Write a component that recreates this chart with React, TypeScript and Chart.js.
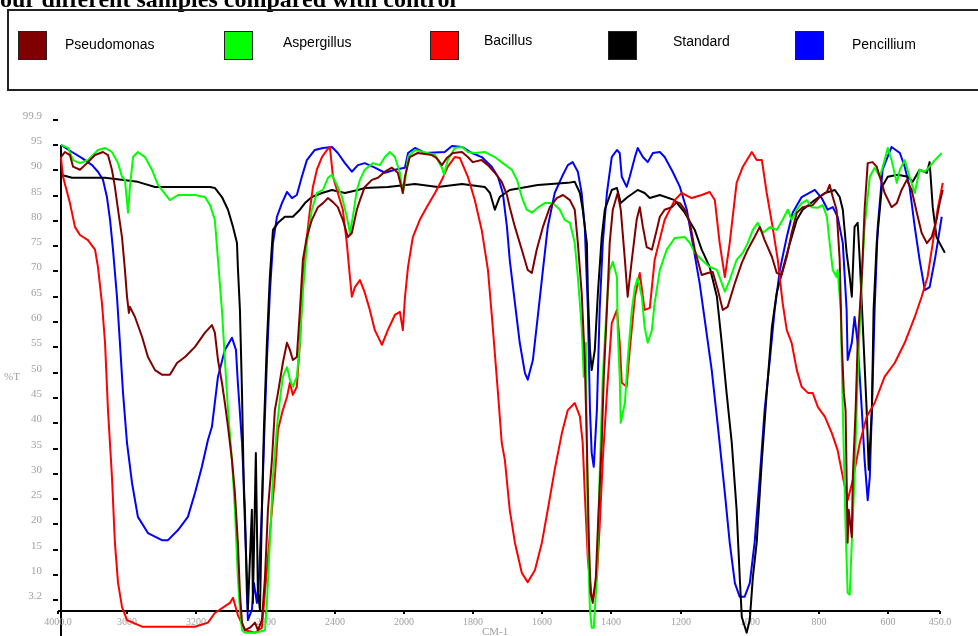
import React, { useEffect, useRef } from "react";
import { Chart, registerables } from "chart.js";

Chart.register(...registerables);

// ---------- data ----------
const titleText = "four different samples compared with control";
const seriesNames = ["Pseudomonas", "Aspergillus", "Bacillus", "Standard", "Pencillium"];

const xTickWn = [4000, 3600, 3200, 2800, 2400, 2000, 1800, 1600, 1400, 1200, 1000, 800, 600, 450];
const xTickLabels = ["4000.0", "3600", "3200", "2800", "2400", "2000", "1800", "1600", "1400", "1200", "1000", "800", "600", "450.0"];
const yTickValues = [99.9, 95, 90, 85, 80, 75, 70, 65, 60, 55, 50, 45, 40, 35, 30, 25, 20, 15, 10, 5];
const yTickLabels = ["99.9", "95", "90", "85", "80", "75", "70", "65", "60", "55", "50", "45", "40", "35", "30", "25", "20", "15", "10", "3.2"];

// [wavenumber cm-1, %T]
const pseudomonas: [number, number][] = [
  [3983,92.6],[3960,93.6],[3931,93.0],[3913,90.7],[3873,90.1],[3832,91.4],[3786,93.0],[3740,93.6],[3711,93.0],[3688,90.1],[3671,86.7],[3653,82.2],[3630,76.8],[3613,70.3],[3601,65.0],[3590,61.8],[3584,63.0],[3555,61.0],[3514,57.1],[3480,53.1],[3439,50.5],[3399,49.6],[3353,49.6],[3312,51.9],[3266,53.1],[3208,55.1],[3150,57.9],[3110,59.4],[3093,57.9],[3075,52.5],[3052,48.0],[3035,44.0],[3017,39.3],[2994,32.7],[2977,26.2],[2960,16.4],[2948,6.5],[2936,0.6],[2919,-0.9],[2890,-0.4],[2861,0.6],[2844,-0.9],[2821,1.1],[2803,9.6],[2786,22.9],[2763,32.7],[2746,42.6],[2728,46.0],[2700,51.9],[2676,55.9],[2659,54.5],[2642,52.5],[2619,53.1],[2601,62.4],[2584,72.3],[2561,76.8],[2532,80.2],[2497,82.7],[2468,83.5],[2439,84.5],[2410,83.7],[2382,82.7],[2353,80.2],[2324,76.8],[2301,77.6],[2272,82.2],[2254,84.1],[2226,86.7],[2185,88.1],[2150,88.5],[2110,89.7],[2069,90.5],[2035,89.5],[2006,85.5],[1997,88.7],[1983,92.6],[1960,93.4],[1919,93.0],[1905,92.4],[1890,91.0],[1876,92.4],[1858,93.4],[1832,93.6],[1815,92.6],[1801,91.6],[1775,92.0],[1757,91.0],[1737,89.5],[1717,87.7],[1702,85.1],[1694,82.7],[1679,78.8],[1659,74.3],[1642,70.3],[1630,69.7],[1616,74.3],[1598,78.8],[1578,82.7],[1558,84.5],[1540,85.1],[1520,84.1],[1506,82.2],[1497,75.6],[1486,65.8],[1477,52.5],[1471,36.1],[1465,16.4],[1460,6.5],[1454,4.5],[1445,9.6],[1439,19.5],[1428,36.1],[1422,49.2],[1413,62.4],[1405,75.6],[1396,82.2],[1382,85.5],[1373,82.2],[1361,72.3],[1353,65.0],[1341,72.3],[1327,80.2],[1318,82.7],[1309,78.8],[1298,74.8],[1283,74.3],[1269,78.2],[1260,80.8],[1246,82.2],[1225,82.7],[1211,83.7],[1202,83.5],[1188,82.2],[1173,79.6],[1159,74.3],[1139,69.3],[1121,69.7],[1107,69.9],[1092,66.3],[1078,62.4],[1064,63.0],[1043,67.7],[1023,71.7],[1006,74.3],[986,76.8],[971,78.8],[957,76.2],[936,72.9],[922,69.7],[908,69.3],[893,72.9],[879,77.6],[864,81.6],[847,82.7],[818,83.1],[798,84.7],[777,85.7],[769,87.1],[760,84.7],[749,82.2],[740,72.3],[734,55.9],[728,46.0],[723,42.6],[720,29.4],[717,16.4],[714,22.9],[705,17.5],[702,29.4],[694,42.6],[688,55.9],[676,68.9],[668,82.2],[659,91.4],[645,91.6],[633,90.7],[624,88.7],[610,85.5],[590,82.7],[575,83.5],[561,86.1],[546,88.1],[532,86.1],[517,81.6],[503,77.6],[488,75.6],[474,76.8],[460,80.2],[451,83.5],[442,86.1]
];

const aspergillus: [number, number][] = [
  [3983,95.0],[3942,94.4],[3913,92.0],[3873,91.4],[3827,92.0],[3769,94.0],[3728,94.4],[3688,93.6],[3653,91.4],[3630,88.7],[3613,88.1],[3595,81.6],[3584,86.7],[3566,92.6],[3538,93.6],[3497,92.6],[3457,90.1],[3422,87.1],[3353,84.1],[3306,85.1],[3208,85.1],[3150,84.7],[3121,83.1],[3093,80.2],[3075,72.3],[3052,62.4],[3035,52.5],[3017,42.6],[2994,32.7],[2977,22.9],[2960,9.6],[2948,3.1],[2936,-0.9],[2919,-1.4],[2861,-1.4],[2803,-0.9],[2792,4.5],[2775,16.4],[2757,29.4],[2734,39.3],[2717,44.6],[2700,49.2],[2676,51.1],[2659,48.6],[2642,47.2],[2619,49.2],[2601,55.9],[2584,65.8],[2561,75.6],[2532,82.2],[2503,85.5],[2468,86.1],[2439,88.5],[2416,89.1],[2387,87.1],[2358,84.7],[2330,80.8],[2312,77.6],[2295,80.8],[2272,86.1],[2254,88.1],[2226,90.1],[2179,91.4],[2139,91.0],[2110,92.6],[2081,93.6],[2052,92.6],[2023,89.5],[2006,85.5],[1997,87.5],[1988,92.6],[1968,94.0],[1931,93.4],[1910,93.0],[1890,90.5],[1884,89.1],[1873,92.0],[1853,94.4],[1832,94.6],[1815,93.6],[1795,93.4],[1766,93.6],[1737,92.6],[1714,91.4],[1688,90.1],[1673,88.1],[1659,84.7],[1645,82.2],[1630,81.6],[1613,82.6],[1593,83.5],[1569,83.5],[1549,82.2],[1535,80.2],[1520,79.6],[1506,75.6],[1497,68.9],[1486,59.0],[1480,49.2],[1474,55.9],[1471,36.1],[1468,16.4],[1462,3.1],[1457,-0.4],[1451,-0.4],[1442,9.6],[1434,29.4],[1425,49.2],[1413,63.8],[1405,70.3],[1396,71.9],[1384,68.9],[1382,59.0],[1376,49.2],[1373,40.1],[1361,44.0],[1353,52.5],[1341,62.4],[1332,66.9],[1324,68.7],[1312,65.0],[1304,59.0],[1295,55.9],[1283,58.4],[1275,63.8],[1260,70.3],[1240,74.3],[1217,76.6],[1188,76.8],[1173,75.6],[1159,73.7],[1139,72.3],[1116,70.9],[1095,70.3],[1081,67.7],[1072,66.0],[1058,68.3],[1038,72.3],[1020,73.7],[1006,75.6],[991,78.2],[977,79.6],[962,77.6],[942,78.8],[922,78.2],[905,80.2],[890,82.2],[879,80.2],[864,82.2],[850,83.5],[835,84.1],[821,82.7],[803,82.6],[789,83.1],[777,80.8],[769,75.6],[760,70.3],[749,68.9],[746,70.3],[737,62.4],[731,42.6],[723,19.5],[717,6.5],[711,6.1],[705,16.4],[697,29.4],[688,49.2],[676,68.9],[668,78.8],[653,88.7],[639,90.5],[624,88.7],[610,92.0],[601,94.4],[590,92.0],[575,87.5],[566,90.1],[552,92.0],[538,88.7],[523,85.5],[509,90.1],[494,89.7],[480,90.7],[465,92.0],[445,93.4]
];

const bacillus: [number, number][] = [
  [3983,92.6],[3971,88.7],[3931,83.5],[3902,78.8],[3873,77.2],[3827,76.2],[3786,74.3],[3769,70.9],[3746,63.8],[3728,55.9],[3711,42.6],[3688,29.4],[3671,16.4],[3653,8.5],[3630,3.7],[3601,1.1],[3514,-0.2],[3341,-0.2],[3208,-0.2],[3133,0.6],[3093,2.5],[3006,4.5],[2988,5.5],[2960,2.1],[2919,-0.9],[2861,-1.4],[2821,-0.4],[2792,11.0],[2763,22.9],[2746,29.4],[2728,38.7],[2700,42.6],[2676,45.2],[2659,48.0],[2642,45.6],[2619,47.2],[2601,55.9],[2584,68.9],[2561,76.8],[2543,82.2],[2526,86.7],[2503,90.1],[2474,92.6],[2445,94.0],[2428,94.6],[2410,88.7],[2382,85.5],[2353,82.2],[2330,75.6],[2312,68.9],[2301,65.0],[2283,66.9],[2254,68.3],[2226,65.8],[2197,62.4],[2168,58.4],[2127,55.5],[2093,58.4],[2052,61.4],[2023,62.0],[2006,58.4],[1997,64.8],[1988,70.9],[1974,76.8],[1954,80.2],[1934,82.7],[1910,85.5],[1890,88.1],[1873,90.7],[1853,92.6],[1838,92.4],[1815,88.7],[1795,84.1],[1775,78.2],[1757,70.3],[1743,59.0],[1728,46.0],[1717,36.1],[1708,32.7],[1694,22.9],[1679,16.4],[1659,10.4],[1642,8.6],[1621,11.0],[1601,16.4],[1584,22.9],[1564,30.8],[1543,38.1],[1526,42.6],[1506,44.0],[1491,41.3],[1483,36.1],[1477,26.2],[1468,13.0],[1457,5.7],[1454,5.1],[1442,9.6],[1434,19.5],[1425,32.7],[1413,46.0],[1399,59.8],[1384,62.4],[1376,55.9],[1370,48.0],[1356,47.2],[1347,54.5],[1332,65.0],[1318,69.7],[1304,62.4],[1289,62.8],[1275,72.3],[1246,80.2],[1217,84.1],[1197,85.5],[1168,84.5],[1139,85.1],[1116,85.7],[1101,84.1],[1087,75.6],[1072,68.9],[1058,75.6],[1038,87.5],[1020,90.7],[994,93.6],[980,92.0],[965,92.0],[951,85.5],[934,78.8],[919,72.3],[905,63.8],[893,58.4],[879,55.9],[864,50.5],[850,47.2],[832,46.0],[818,46.0],[803,43.2],[783,41.3],[763,38.1],[746,34.7],[731,29.4],[717,24.8],[702,28.8],[682,36.1],[662,41.3],[639,44.0],[610,49.2],[581,51.9],[552,55.9],[523,61.0],[503,65.0],[486,68.9],[471,75.6],[457,82.2],[442,87.5]
];

const standard: [number, number][] = [
  [3983,89.1],[3919,88.5],[3728,88.5],[3538,87.7],[3439,86.7],[3121,86.7],[3093,86.5],[3052,84.7],[3017,82.2],[2988,78.8],[2965,75.6],[2960,70.9],[2948,62.4],[2936,46.0],[2925,26.2],[2908,9.6],[2902,3.1],[2879,22.9],[2873,4.5],[2856,34.1],[2844,6.5],[2832,3.1],[2821,22.9],[2809,39.3],[2792,55.9],[2775,68.9],[2757,78.2],[2728,79.6],[2688,80.8],[2642,80.8],[2601,82.2],[2572,83.5],[2532,84.7],[2474,85.5],[2416,86.1],[2341,85.5],[2266,86.1],[2226,86.5],[2093,86.7],[1968,87.3],[1902,86.7],[1832,87.3],[1766,86.7],[1751,85.5],[1737,82.2],[1723,84.7],[1694,86.1],[1613,87.1],[1526,87.5],[1506,87.7],[1491,85.5],[1483,82.2],[1471,75.6],[1468,65.8],[1462,54.5],[1457,50.5],[1448,54.5],[1439,65.8],[1428,76.8],[1419,82.2],[1399,86.1],[1384,86.5],[1373,83.5],[1353,84.7],[1324,86.1],[1304,85.5],[1289,84.5],[1260,85.1],[1217,84.1],[1188,81.6],[1159,78.2],[1139,74.3],[1116,70.9],[1095,65.0],[1081,55.9],[1067,46.0],[1052,36.1],[1038,22.9],[1029,9.6],[1023,1.7],[1009,-1.4],[1000,1.1],[991,9.6],[980,16.4],[965,32.7],[951,46.0],[936,59.0],[922,65.8],[905,70.3],[884,75.6],[864,80.2],[847,82.2],[812,84.1],[783,85.5],[754,86.1],[740,84.7],[731,82.2],[720,73.7],[711,68.9],[705,65.0],[697,78.8],[688,79.6],[682,72.3],[673,59.0],[662,42.6],[656,30.8],[647,42.6],[642,62.4],[633,75.6],[618,86.7],[601,88.7],[572,89.1],[543,88.7],[529,87.7],[509,90.1],[488,89.5],[480,91.6],[471,82.7],[460,76.8],[451,75.6],[436,73.7]
];

const pencillium: [number, number][] = [
  [3983,95.0],[3919,93.6],[3861,92.4],[3803,91.0],[3769,89.7],[3740,88.1],[3717,84.7],[3699,80.2],[3682,74.3],[3659,65.0],[3642,55.9],[3624,46.0],[3601,36.1],[3572,28.2],[3538,21.5],[3480,18.3],[3399,16.9],[3364,16.9],[3306,18.9],[3249,21.5],[3208,26.2],[3168,31.4],[3133,36.7],[3110,39.3],[3075,49.2],[3035,54.5],[2994,56.9],[2971,54.5],[2960,48.0],[2936,36.1],[2919,22.9],[2908,6.5],[2902,1.1],[2879,3.1],[2867,8.4],[2850,4.5],[2838,9.6],[2821,22.9],[2809,36.1],[2792,52.5],[2775,65.8],[2757,75.6],[2734,80.8],[2705,83.5],[2676,85.7],[2647,84.5],[2619,85.1],[2590,88.7],[2561,92.0],[2515,94.0],[2468,94.4],[2416,94.6],[2382,93.4],[2341,91.4],[2301,89.7],[2266,91.0],[2226,91.4],[2168,90.5],[2110,89.5],[2052,90.1],[1997,90.5],[1988,93.4],[1968,94.4],[1939,93.4],[1882,93.6],[1861,94.8],[1832,94.6],[1803,93.4],[1775,92.6],[1746,90.7],[1728,88.7],[1714,85.5],[1702,78.8],[1694,72.3],[1679,63.8],[1665,55.9],[1650,49.9],[1642,48.6],[1627,52.5],[1613,61.0],[1598,70.3],[1584,78.8],[1564,85.5],[1543,88.7],[1526,91.0],[1512,91.6],[1497,89.7],[1486,85.5],[1477,78.8],[1468,62.4],[1462,42.6],[1457,34.1],[1451,31.4],[1442,42.6],[1434,62.4],[1425,75.6],[1413,85.5],[1399,92.6],[1384,94.0],[1376,93.4],[1370,88.7],[1356,86.7],[1347,88.7],[1332,92.6],[1324,94.4],[1309,92.6],[1295,91.6],[1280,93.4],[1260,93.6],[1246,92.6],[1223,89.7],[1202,86.7],[1182,82.2],[1165,75.6],[1145,67.7],[1130,60.4],[1110,50.5],[1092,39.3],[1072,26.2],[1058,16.4],[1043,8.4],[1029,5.7],[1015,5.7],[1000,8.4],[986,16.4],[971,29.4],[957,42.6],[942,52.5],[928,62.4],[913,70.3],[893,76.8],[876,81.6],[850,84.7],[812,86.1],[792,84.5],[775,82.2],[760,82.7],[746,80.8],[731,75.6],[720,62.4],[717,52.5],[705,55.9],[697,61.0],[688,55.9],[676,42.6],[668,32.7],[659,24.8],[653,29.4],[647,42.6],[639,62.4],[630,78.8],[616,90.1],[590,94.6],[566,93.4],[552,90.7],[538,86.7],[523,78.8],[509,72.3],[494,66.3],[480,66.9],[465,72.3],[457,75.6],[445,80.8]
];

// ---------- styles / layout ----------
const W = 978;
const H = 636;
const seriesColors = ["#800000", "#00ff00", "#ff0000", "#000000", "#0000ff"];
const legendSquareX = [18, 224, 430, 608, 795];
const legendLabelX = [65, 283, 484, 673, 852];
const legendLabelY = [44, 42, 40, 41, 44];

// split x-axis: 4000-2000 at 400 cm-1 per unit, below 2000 at 200 cm-1 per unit
function wnToU(wn: number): number {
  return wn >= 2000 ? (4000 - wn) / 400 : 5 + (2000 - wn) / 200;
}

const axesPlugin = {
  id: "ftirAxes",
  beforeDatasetsDraw(chart: any) {
    const { ctx } = chart;
    const xs = chart.scales.x;
    const ys = chart.scales.y;
    ctx.save();
    ctx.fillStyle = "#000";
    ctx.strokeStyle = "#000";
    ctx.lineWidth = 2;
    const axisY = Math.round(ys.getPixelForValue(ys.min));
    const axisX = xs.left + 3;
    // x axis line
    ctx.beginPath();
    ctx.moveTo(xs.left, axisY);
    ctx.lineTo(xs.right, axisY);
    ctx.stroke();
    // y axis line
    ctx.beginPath();
    ctx.moveTo(axisX, ys.getPixelForValue(95));
    ctx.lineTo(axisX, H);
    ctx.stroke();
    // y ticks + labels
    ctx.font = '11px "Liberation Serif"';
    ctx.textAlign = "right";
    ctx.textBaseline = "middle";
    yTickValues.forEach((v, i) => {
      const py = Math.round(ys.getPixelForValue(v));
      ctx.fillStyle = "#000";
      ctx.fillRect(axisX - 8, py - 1, 5, 2);
      ctx.fillStyle = "#a0a0a0";
      ctx.fillText(yTickLabels[i], 42, py - 4);
    });
    // x ticks + labels
    ctx.textAlign = "center";
    ctx.font = '10px "Liberation Serif"';
    xTickWn.forEach((wn, i) => {
      const px = Math.round(xs.getPixelForValue(wnToU(wn)));
      ctx.fillStyle = "#000";
      ctx.fillRect(px - 1, axisY, 2, 3);
      ctx.fillStyle = "#a0a0a0";
      ctx.fillText(xTickLabels[i], px, axisY + 11);
    });
    // axis titles
    ctx.font = '11px "Liberation Serif"';
    ctx.fillStyle = "#a0a0a0";
    ctx.textAlign = "center";
    ctx.fillText("%T", 12, 377);
    ctx.textAlign = "left";
    ctx.textBaseline = "top";
    ctx.fillText("CM-1", 482, 627);
    ctx.restore();
  },
};

export default function App() {
  const ref = useRef<HTMLCanvasElement>(null);

  useEffect(() => {
    if (!ref.current) return;
    const all = [pseudomonas, aspergillus, bacillus, standard, pencillium];
    const chart = new Chart(ref.current, {
      type: "line",
      data: {
        datasets: all.map((series, i) => ({
          label: seriesNames[i],
          data: series.map(([wn, t]) => ({ x: wnToU(wn), y: t })),
          borderColor: seriesColors[i],
          backgroundColor: seriesColors[i],
          borderWidth: 2,
          pointRadius: 0,
          tension: 0,
          fill: false,
          clip: false as any,
          borderJoinStyle: "round" as any,
        })),
      },
      options: {
        responsive: false,
        devicePixelRatio: 1,
        animation: false,
        layout: { padding: { left: 58, right: 38, top: 110, bottom: 25 } },
        scales: {
          x: { type: "linear", display: false, min: 0, max: wnToU(450) },
          y: { type: "linear", display: false, min: 2.9, max: 101.9 },
        },
        plugins: {
          legend: { display: false },
          tooltip: { enabled: false },
          title: { display: false },
        },
        events: [],
      },
      plugins: [axesPlugin],
    });
    return () => chart.destroy();
  }, []);

  return (
    <div
      style={{
        position: "absolute",
        left: 0,
        top: 0,
        width: W,
        height: H,
        overflow: "hidden",
        background: "#fff",
      }}
    >
      <canvas
        ref={ref}
        width={W}
        height={H}
        style={{ position: "absolute", left: 0, top: 0, width: W, height: H }}
      />
      <div
        style={{
          position: "absolute",
          left: -8,
          top: -13,
          font: 'bold 24px "Liberation Serif"',
          lineHeight: "24px",
          whiteSpace: "nowrap",
          color: "#000",
        }}
      >
        {titleText}
      </div>
      <div
        style={{
          position: "absolute",
          left: 7,
          top: 9,
          width: 980,
          height: 78,
          border: "2px solid #222",
          boxSizing: "content-box",
        }}
      />
      {seriesNames.map((name, i) => (
        <React.Fragment key={name}>
          <div
            style={{
              position: "absolute",
              left: legendSquareX[i],
              top: 31,
              width: 27,
              height: 27,
              background: seriesColors[i],
              border: "1px solid #222",
            }}
          />
          <div
            style={{
              position: "absolute",
              left: legendLabelX[i],
              top: legendLabelY[i] - 8,
              font: '14px "Liberation Sans"',
              lineHeight: "16px",
              whiteSpace: "nowrap",
              color: "#000",
            }}
          >
            {name}
          </div>
        </React.Fragment>
      ))}
    </div>
  );
}
